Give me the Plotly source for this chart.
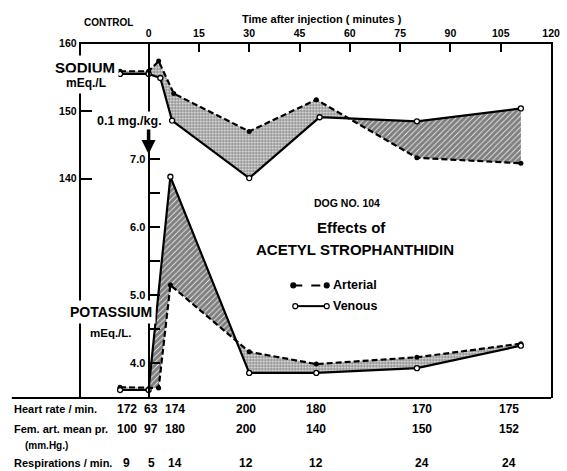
import numpy as np
import plotly.graph_objects as go

# ---------------- data ----------------
# Sodium, mEq/L
na_art_t = [-8.5, 0, 3, 7.5, 30, 50, 80, 111]
na_art = [155.9, 155.9, 157.4, 152.6, 147.0, 151.7, 143.1, 142.3]
na_ven_t = [-8.5, 0, 3.5, 7, 30, 51, 80, 111]
na_ven = [155.5, 155.5, 154.9, 148.6, 140.1, 149.1, 148.5, 150.4]

# Potassium, mEq/L
k_art_t = [-8.5, 3, 6.5, 30, 50, 80, 111]
k_art = [3.65, 3.64, 5.15, 4.17, 3.99, 4.09, 4.29]
k_ven_t = [-8.5, 0, 6.5, 30, 50, 80, 111]
k_ven = [3.61, 3.61, 6.74, 3.86, 3.86, 3.93, 4.26]

# vital signs table
vital_times = [-6.5, 0.8, 8, 29, 50, 81.5, 107.5]
heart_rate = [172, 63, 174, 200, 180, 170, 175]
fem_art_pr = [100, 97, 180, 200, 140, 150, 152]
respirations = [9, 5, 14, 12, 12, 24, 24]

time_ticks = [0, 15, 30, 45, 60, 75, 90, 105, 120]
na_ticks = [140, 150, 160]
k_ticks = [4.0, 4.5, 5.0, 5.5, 6.0, 6.5, 7.0]
k_ticktext = ["4.0", "", "5.0", "", "6.0", "", "7.0"]

# ---------------- helpers ----------------
W, H = 567, 471
FONT = "Liberation Sans"


def px(x):
    return x / W


def py(y):
    return 1 - y / H


def band_polys(ta, ya, tv, yv):
    lo = max(ta[0], tv[0])
    hi = min(ta[-1], tv[-1])
    grid = sorted(set(t for t in list(ta) + list(tv) if lo <= t <= hi))
    a = np.interp(grid, ta, ya)
    v = np.interp(grid, tv, yv)
    pts = [(grid[0], a[0], v[0])]
    for i in range(len(grid) - 1):
        d0 = a[i] - v[i]
        d1 = a[i + 1] - v[i + 1]
        if d0 * d1 < 0:
            f = d0 / (d0 - d1)
            tc = grid[i] + f * (grid[i + 1] - grid[i])
            yc = a[i] + f * (a[i + 1] - a[i])
            pts.append((tc, yc, yc))
        pts.append((grid[i + 1], a[i + 1], v[i + 1]))
    segs, cur = [], [pts[0]]
    for p in pts[1:]:
        cur.append(p)
        if abs(p[1] - p[2]) < 1e-12:
            segs.append(cur)
            cur = [p]
    if len(cur) > 1:
        segs.append(cur)
    out = []
    for s in segs:
        sign = np.sign(sum(p[1] - p[2] for p in s))
        xs = [p[0] for p in s] + [p[0] for p in reversed(s)]
        ys = [p[1] for p in s] + [p[2] for p in reversed(s)]
        out.append((xs, ys, sign))
    return out


stipple = dict(shape=".", size=3, solidity=0.65, fgcolor="black", bgcolor="white")
hatch = dict(shape="/", size=4, solidity=0.8, fgcolor="black", bgcolor="white")

fig = go.Figure()

for (ta, ya, tv, yv, ax) in [(na_art_t, na_art, na_ven_t, na_ven, "y"),
                             (k_art_t, k_art, k_ven_t, k_ven, "y2")]:
    for xs, ys, sign in band_polys(ta, ya, tv, yv):
        fig.add_trace(go.Scatter(
            x=xs, y=ys, yaxis=ax, mode="lines", fill="toself",
            line=dict(width=0, color="rgba(0,0,0,0)"),
            fillcolor="white",
            fillpattern=stipple if sign >= 0 else hatch,
            hoverinfo="skip"))

for (t, v, ax) in [(na_art_t, na_art, "y"), (k_art_t, k_art, "y2")]:
    fig.add_trace(go.Scatter(
        x=t, y=v, yaxis=ax, mode="lines+markers",
        line=dict(color="black", width=2.2, dash="6px,3px"),
        marker=dict(symbol="circle", size=5, color="black")))

for (t, v, ax) in [(na_ven_t, na_ven, "y"), (k_ven_t, k_ven, "y2")]:
    fig.add_trace(go.Scatter(
        x=t, y=v, yaxis=ax, mode="lines+markers",
        line=dict(color="black", width=2.2),
        marker=dict(symbol="circle", size=5, color="white",
                    line=dict(color="black", width=1.3))))

# blank box that interrupts the sodium axis beside the potassium label
ann = [dict(x=px(82), y=py(332), xref="paper", yref="paper", text=" ",
            showarrow=False, width=8, height=16, bgcolor="white")]


def text(x, y, s, size, xanchor="center", bg=None, xref="paper", pad=1):
    d = dict(x=x if xref != "paper" else px(x), y=py(y), xref=xref, yref="paper",
             text=s, showarrow=False, xanchor=xanchor, yanchor="middle",
             font=dict(family=FONT, size=size, color="black", weight="bold"),
             borderpad=pad)
    if bg:
        d["bgcolor"] = bg
    ann.append(d)


text(110, 17, "CONTROL", 10)
text(327, 13, "Time after injection ( minutes )", 11)
text(86, 62, "SODIUM", 15, bg="white", pad=3)
text(87, 78, "mEq./L", 12, bg="white", pad=3)
text(132, 116, "0.1 mg./kg.", 12.5, bg="white", pad=2)
text(113, 310, "POTASSIUM", 14, bg="white", pad=3)
text(113, 331, "mEq./L.", 11.5, bg="white", pad=2)
text(353, 200, "DOG NO. 104", 10.5)
text(357, 224, "Effects of", 15)
text(361, 247, "ACETYL STROPHANTHIDIN", 15)
text(336, 283, "Arterial", 12.5, xanchor="left")
text(336, 304, "Venous", 12.5, xanchor="left")

# arrow at injection
ann.append(dict(x=0, y=py(150), xref="x", yref="paper", ax=0, ay=-26,
                text="", showarrow=True, arrowhead=2, arrowsize=0.8,
                arrowwidth=3.5, arrowcolor="black"))

# table
text(12, 408, "Heart rate / min.", 11, xanchor="left")
text(12, 428, "Fem. art. mean pr.", 11, xanchor="left")
text(23, 445, "(mm.Hg.)", 10, xanchor="left")
text(12, 463, "Respirations / min.", 11, xanchor="left")
for row, y in [(heart_rate, 408), (fem_art_pr, 428), (respirations, 463)]:
    for t, v in zip(vital_times, row):
        text(t, y, str(v), 12, xref="x")

shapes = [
    dict(type="line", xref="paper", yref="paper", x0=px(12), x1=px(560),
         y0=py(397), y1=py(397), line=dict(color="black", width=2)),
    dict(type="line", xref="paper", yref="paper", x0=px(298), x1=px(332),
         y0=py(283), y1=py(283), line=dict(color="black", width=2, dash="dash")),
    dict(type="line", xref="paper", yref="paper", x0=px(300), x1=px(332),
         y0=py(304), y1=py(304), line=dict(color="black", width=2)),
]
for cx, cy, fillc in [(298, 283, "black"), (332, 283, "black"),
                      (300, 304, "white"), (332, 304, "white")]:
    shapes.append(dict(type="circle", xref="paper", yref="paper",
                       x0=px(cx - 2.5), x1=px(cx + 2.5), y0=py(cy + 2.5), y1=py(cy - 2.5),
                       fillcolor=fillc, line=dict(color="black", width=1.2)))

tickfont = dict(family=FONT, size=10.5, color="black", weight="bold")
fig.update_layout(
    width=W, height=H, margin=dict(l=0, r=0, t=0, b=0),
    paper_bgcolor="white", plot_bgcolor="white", showlegend=False,
    annotations=ann, shapes=shapes,
    xaxis=dict(domain=[px(82), px(560)], range=[-20.24, 120.01], side="top",
               showline=True, linecolor="black", linewidth=2,
               ticks="inside", ticklen=8, tickwidth=2, tickcolor="black",
               tickvals=time_ticks, ticktext=[str(v) for v in time_ticks],
               ticklabeloverflow="allow",
               tickfont=tickfont, showgrid=False, zeroline=False),
    yaxis=dict(domain=[py(397), py(38)], range=[107.59, 160],
               showline=True, linecolor="black", linewidth=2, mirror=True,
               ticks="inside", ticklen=11, tickwidth=2, tickcolor="black",
               tickvals=na_ticks, ticktext=[str(v) for v in na_ticks],
               tickfont=tickfont, showgrid=False, zeroline=False),
    yaxis2=dict(overlaying="y", anchor="free", position=px(151),
                range=[3.493, 8.696], side="left",
                showline=True, linecolor="black", linewidth=2,
                ticks="inside", ticklen=10, tickwidth=2, tickcolor="black",
                tickvals=k_ticks, ticktext=k_ticktext,
                tickfont=dict(family=FONT, size=11, color="black", weight="bold"),
                showgrid=False, zeroline=False),
)

fig.write_html("out.html", config={"displayModeBar": False},
               post_script="document.body.style.margin='0';"
                           "document.body.style.padding='0';"
                           "document.documentElement.style.overflow='hidden';")
